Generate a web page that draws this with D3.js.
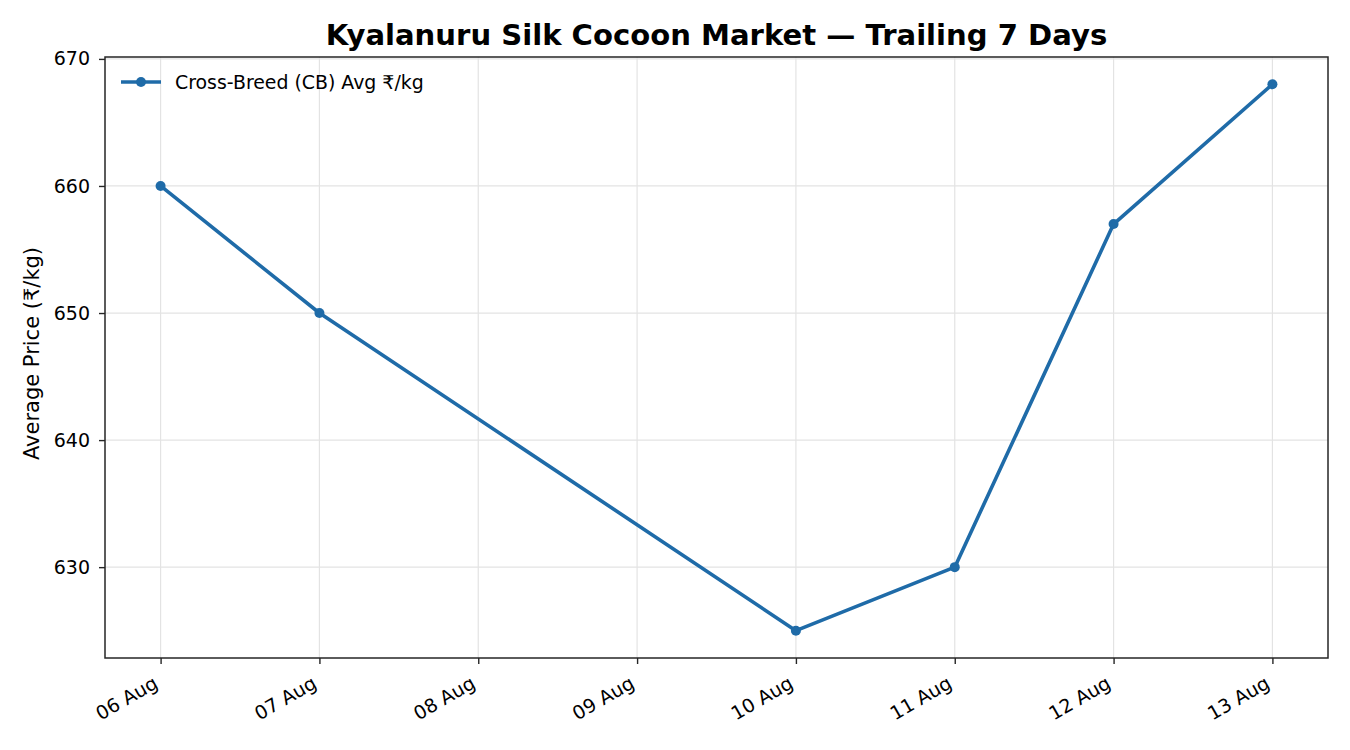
<!DOCTYPE html>
<html>
<head>
<meta charset="utf-8">
<script src="https://cdn.jsdelivr.net/npm/d3@7/dist/d3.min.js"></script>
<style>
  html, body { margin: 0; padding: 0; background: #fff; }
  svg { display: block; font-family: "DejaVu Sans", sans-serif; }
</style>
</head>
<body>
<svg id="chart" width="1350" height="750"></svg>
<script>
const dates = ["2024-08-06", "2024-08-07", "2024-08-10", "2024-08-11", "2024-08-12", "2024-08-13"];
const prices = [660, 650, 625, 630, 657, 668];
const yTicks = [630, 640, 650, 660, 670];
const titleText = "Kyalanuru Silk Cocoon Market — Trailing 7 Days";
const yLabelText = "Average Price (₹/kg)";
const seriesName = "Cross-Breed (CB) Avg ₹/kg";

const parse = d3.utcParse("%Y-%m-%d");
const data = dates.map((d, i) => ({ date: parse(d), value: prices[i] }));

const W = 1350, H = 750;
const m = { left: 105, right: 22, top: 57, bottom: 92 };
const iw = W - m.left - m.right, ih = H - m.top - m.bottom;
const color = "#1f6ba8";
const FONT = "'DejaVu Sans', sans-serif";

const svg = d3.select("#chart");
const g = svg.append("g").attr("transform", `translate(${m.left},${m.top})`);

const x0 = d3.min(data, d => d.date), x1 = d3.max(data, d => d.date);
const span = x1 - x0;
const x = d3.scaleUtc().domain([new Date(+x0 - span * 0.05), new Date(+x1 + span * 0.05)]).range([0, iw]);
const yMin = d3.min(prices), yMax = d3.max(prices), yr = yMax - yMin;
const y = d3.scaleLinear().domain([yMin - yr * 0.05, yMax + yr * 0.05]).range([ih, 0]);

const xTickVals = d3.utcDay.range(x0, new Date(+x1 + 1));

// grid
g.append("g").selectAll("line").data(xTickVals).join("line")
  .attr("x1", d => x(d)).attr("x2", d => x(d)).attr("y1", 0).attr("y2", ih)
  .attr("stroke", "#e3e3e3").attr("stroke-width", 1.2);
g.append("g").selectAll("line").data(yTicks).join("line")
  .attr("y1", d => y(d)).attr("y2", d => y(d)).attr("x1", 0).attr("x2", iw)
  .attr("stroke", "#e3e3e3").attr("stroke-width", 1.2);

// axes
const xAxis = g.append("g").attr("transform", `translate(0,${ih})`)
  .call(d3.axisBottom(x).tickValues(xTickVals).tickFormat(d3.utcFormat("%d %b")).tickSize(6).tickPadding(4));
xAxis.attr("font-size", null).attr("font-family", null);
xAxis.select(".domain").remove();
xAxis.selectAll(".tick line").attr("stroke", "#262626").attr("stroke-width", 1.4);
xAxis.selectAll(".tick text")
  .style("font-size", "19px").style("font-family", FONT).attr("fill", "#000")
  .attr("text-anchor", "end")
  .attr("y", null).attr("dy", null)
  .attr("transform", "translate(-2,29) rotate(-30)");

const yAxis = g.append("g")
  .call(d3.axisLeft(y).tickValues(yTicks).tickSize(6).tickPadding(9));
yAxis.attr("font-size", null).attr("font-family", null);
yAxis.select(".domain").remove();
yAxis.selectAll(".tick line").attr("stroke", "#262626").attr("stroke-width", 1.4);
yAxis.selectAll(".tick text").style("font-size", "19px").style("font-family", FONT).attr("fill", "#000");

// frame
g.append("rect").attr("x", 0).attr("y", 0).attr("width", iw).attr("height", ih)
  .attr("fill", "none").attr("stroke", "#262626").attr("stroke-width", 1.5);

// line
const line = d3.line().x(d => x(d.date)).y(d => y(d.value));
g.append("path").datum(data).attr("d", line)
  .attr("fill", "none").attr("stroke", color).attr("stroke-width", 3.6)
  .attr("stroke-linejoin", "round").attr("stroke-linecap", "round");
g.append("g").selectAll("circle").data(data).join("circle")
  .attr("cx", d => x(d.date)).attr("cy", d => y(d.value)).attr("r", 5).attr("fill", color);

// legend
const lg = g.append("g").attr("transform", "translate(16,25)");
lg.append("line").attr("x1", 0).attr("x2", 40).attr("y1", 0).attr("y2", 0)
  .attr("stroke", color).attr("stroke-width", 3.6);
lg.append("circle").attr("cx", 20).attr("cy", 0).attr("r", 5).attr("fill", color);
lg.append("text").attr("x", 54).attr("y", 0).attr("dy", "0.36em")
  .style("font-size", "18.9px").style("font-family", FONT).attr("fill", "#000").text(seriesName);

// title
svg.append("text").attr("x", m.left + iw / 2).attr("y", 45).attr("text-anchor", "middle")
  .style("font-size", "29.1px").style("font-family", FONT).attr("font-weight", "bold").attr("fill", "#000").text(titleText);

// y label
svg.append("text").attr("transform", `translate(39,${m.top + ih / 2 - 4}) rotate(-90)`)
  .attr("text-anchor", "middle").style("font-size", "21px").style("font-family", FONT).attr("fill", "#000").text(yLabelText);
</script>
</body>
</html>
